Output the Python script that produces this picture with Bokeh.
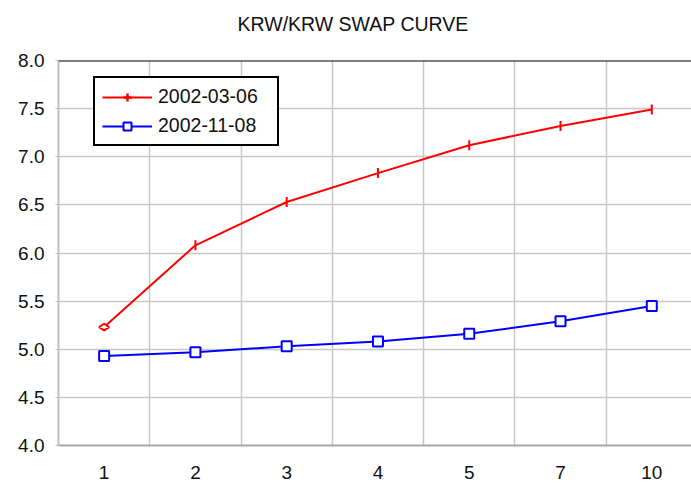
from bokeh.plotting import figure
from bokeh.models import (ColumnDataSource, Range1d, FixedTicker, Span, Legend,
                          LegendItem, NumeralTickFormatter, Title)
from bokeh.embed import file_html
from bokeh.resources import INLINE

# Data
title_text = "KRW/KRW SWAP CURVE"
tenors = ["1", "2", "3", "4", "5", "7", "10"]
curve_0306 = [5.23, 6.08, 6.53, 6.83, 7.12, 7.32, 7.49]
curve_1108 = [4.93, 4.97, 5.03, 5.08, 5.16, 5.29, 5.45]
series_names = ["2002-03-06", "2002-11-08"]
y_ticks = [4.0, 4.5, 5.0, 5.5, 6.0, 6.5, 7.0, 7.5, 8.0]

idx = list(range(len(tenors)))
FONT = "Liberation Sans"
TXT = "#111111"

p = figure(width=691, height=488, output_backend="svg", toolbar_location=None,
           x_range=Range1d(-0.5, len(tenors) - 0.565), y_range=Range1d(4.0, 8.0),
           min_border_left=58, min_border_right=0, min_border_top=60,
           min_border_bottom=43, title=None)
p.outline_line_color = None
p.background_fill_color = "white"

# spacer panel next to the frame, then the title above it
p.add_layout(Title(text=" ", text_font=FONT, text_font_size="21px", standoff=0), "above")
p.add_layout(Title(text=title_text, align="left", offset=179, standoff=2,
                   text_font=FONT, text_font_size="19.5px", text_font_style="normal",
                   text_color=TXT), "above")

# axes
p.xaxis.ticker = FixedTicker(ticks=idx)
p.xaxis.major_label_overrides = {i: t for i, t in zip(idx, tenors)}
p.xaxis.major_tick_line_color = None
p.xaxis.minor_tick_line_color = None
p.xaxis.axis_line_color = "#a8a8a8"
p.xaxis.axis_line_width = 2
p.xaxis.major_label_text_font = FONT
p.xaxis.major_label_text_font_size = "19px"
p.xaxis.major_label_standoff = 14
p.xaxis.major_label_text_color = TXT

p.yaxis.ticker = FixedTicker(ticks=y_ticks)
p.yaxis.formatter = NumeralTickFormatter(format="0.0")
p.yaxis.minor_tick_line_color = None
p.yaxis.major_tick_line_color = "#c0c0c0"
p.yaxis.major_tick_in = 0
p.yaxis.major_tick_out = 3
p.yaxis.axis_line_color = "#c0c0c0"
p.yaxis.axis_line_width = 2
p.yaxis.major_label_text_font = FONT
p.yaxis.major_label_text_font_size = "19px"
p.yaxis.major_label_standoff = 11
p.yaxis.major_label_text_color = TXT

p.xgrid.ticker = FixedTicker(ticks=[i + 0.5 for i in idx])
p.xgrid.grid_line_color = "#c8c8c8"
p.xgrid.grid_line_width = 1.5
p.ygrid.ticker = FixedTicker(ticks=y_ticks)
p.ygrid.grid_line_color = "#c8c8c8"
p.ygrid.grid_line_width = 1.5

p.add_layout(Span(location=8.0, dimension="width", line_color="black", line_width=2))

src = ColumnDataSource(dict(x=idx, a=curve_0306, b=curve_1108,
                            am=["diamond"] + ["dash"] * (len(idx) - 1)))

r1 = p.line("x", "a", source=src, line_color="red", line_width=2)
m1 = p.scatter("x", "a", source=src, marker="am", size=10, angle=1.5708,
               line_color="red", fill_color="white", line_width=2)
r2 = p.line("x", "b", source=src, line_color="blue", line_width=2)
m2 = p.scatter("x", "b", source=src, marker="square", size=10,
               line_color="blue", fill_color="white", line_width=2)

# legend proxy for the red marker style (vertical tick on the line)
lsrc = ColumnDataSource(dict(x=[float("nan")], y=[float("nan")]))
lm1 = p.scatter("x", "y", source=lsrc, marker="cross", size=11,
                line_color="red", line_width=2.5)

legend = Legend(items=[LegendItem(label=series_names[0], renderers=[r1, lm1]),
                       LegendItem(label=series_names[1], renderers=[r2, m2])],
                location=(35, 299))
legend.border_line_color = "black"
legend.border_line_alpha = 1.0
legend.border_line_width = 2
legend.background_fill_alpha = 1.0
legend.label_text_font = FONT
legend.label_text_font_size = "19.5px"
legend.label_text_color = TXT
legend.glyph_width = 50
legend.glyph_height = 20
legend.label_height = 20
legend.label_width = 112
legend.label_standoff = 6
legend.spacing = 6
legend.padding = 7
legend.margin = 0
p.add_layout(legend)

open("out.html", "w").write(file_html(p, INLINE))
